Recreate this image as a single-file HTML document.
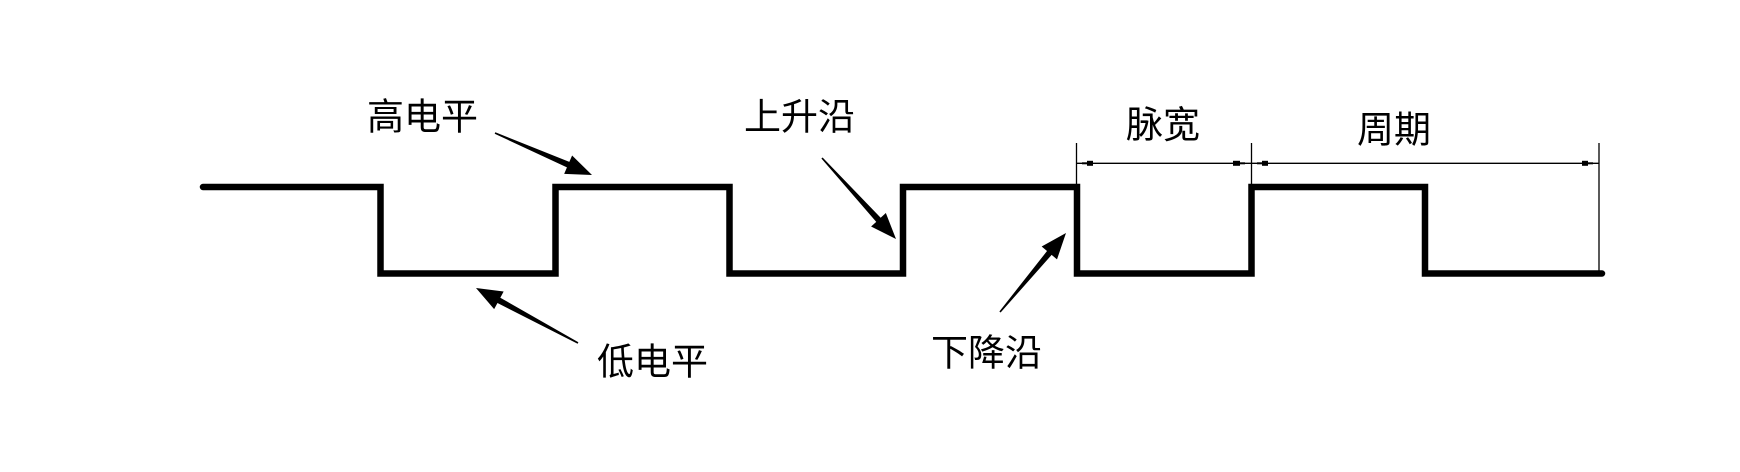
<!DOCTYPE html>
<html>
<head>
<meta charset="utf-8">
<style>
  html, body { margin: 0; padding: 0; background: #fff; }
  body { width: 1740px; height: 472px; overflow: hidden; }
  svg { display: block; }
  text { font-family: "Liberation Sans", "Noto Sans CJK SC", "WenQuanYi Zen Hei", sans-serif; font-size: 37px; fill: #000; }
</style>
</head>
<body>
<svg width="1740" height="472" viewBox="0 0 1740 472" xmlns="http://www.w3.org/2000/svg">
  <rect width="1740" height="472" fill="#fff"/>

  <!-- square wave -->
  <polyline points="203,187 380.5,187 380.5,273.5 555.5,273.5 555.5,187 729.5,187 729.5,273.5 903,273.5 903,187 1077,187 1077,273.5 1251.5,273.5 1251.5,187 1425,187 1425,273.5 1602,273.5"
            fill="none" stroke="#000" stroke-width="6.5" stroke-linejoin="miter" stroke-linecap="round"/>

  <!-- pointer arrows -->
  <polygon points="494.68,133.73 566.95,167.42 564.17,173.85 592,175 572.11,155.49 569.33,161.92 495.32,132.27" fill="#000"/>
  <polygon points="578.38,342.30 500.31,297.70 503.64,291.54 476,288 494.14,309.14 497.47,302.98 577.62,343.70" fill="#000"/>
  <polygon points="821.41,158.54 876.25,221.82 871.08,226.55 896,239 885.84,213.05 880.67,217.78 822.59,157.46" fill="#000"/>
  <polygon points="1000.61,312.51 1051.63,254.87 1057.00,259.36 1066,233 1041.66,246.54 1047.03,251.03 999.39,311.49" fill="#000"/>

  <!-- dimension extension lines -->
  <line x1="1076.5" y1="143" x2="1076.5" y2="187" stroke="#000" stroke-width="1.3"/>
  <line x1="1251.5" y1="143" x2="1251.5" y2="187" stroke="#000" stroke-width="1.3"/>
  <line x1="1599" y1="143" x2="1599" y2="273" stroke="#000" stroke-width="1.3"/>
  <!-- dimension line -->
  <line x1="1076.5" y1="163.3" x2="1599" y2="163.3" stroke="#000" stroke-width="1.4"/>
  <!-- small dimension arrow marks -->
  <rect x="1082" y="162.3" width="5" height="2" fill="#000"/>
  <rect x="1087" y="160.8" width="6" height="5" fill="#000"/>
  <rect x="1233" y="160.8" width="7" height="5" fill="#000"/>
  <rect x="1240" y="162.3" width="5" height="2" fill="#000"/>
  <rect x="1257" y="162.3" width="5" height="2" fill="#000"/>
  <rect x="1262" y="160.8" width="6" height="5" fill="#000"/>
  <rect x="1582" y="160.8" width="6" height="5" fill="#000"/>
  <rect x="1588" y="162.3" width="5" height="2" fill="#000"/>

  <!-- labels -->
  <text x="367" y="129.5">高电平</text>
  <text x="597" y="374.5">低电平</text>
  <text x="744" y="129.5">上升沿</text>
  <text x="931" y="365.5">下降沿</text>
  <text x="1126" y="137.5">脉宽</text>
  <text x="1357" y="142.5">周期</text>
</svg>
</body>
</html>
